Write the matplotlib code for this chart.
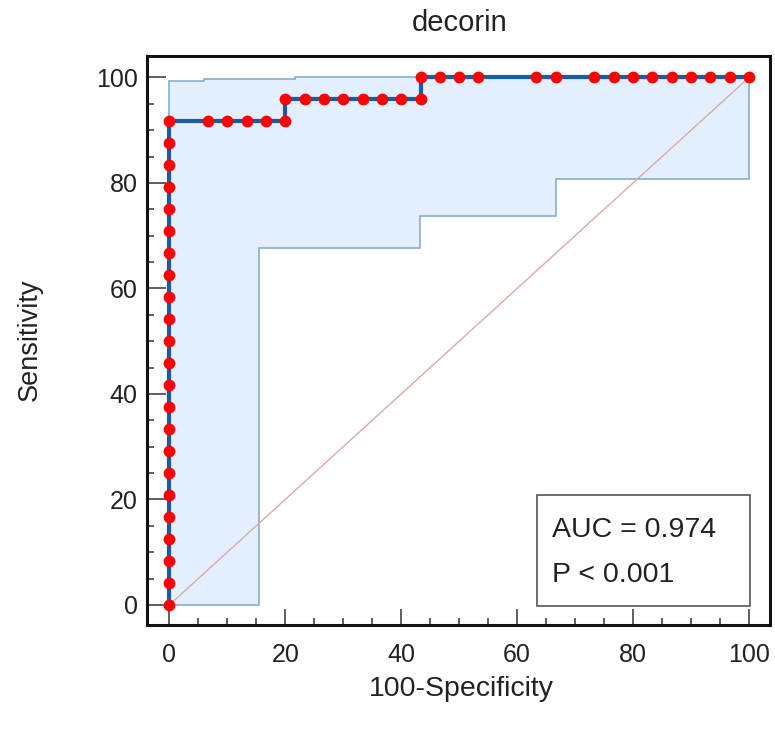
import matplotlib
matplotlib.use("Agg")
import matplotlib.pyplot as plt
from matplotlib.patches import Polygon, Rectangle
from matplotlib.ticker import MultipleLocator

plt.rcParams['font.family'] = ['Liberation Sans', 'DejaVu Sans']

# ROC curve (100-Specificity vs Sensitivity), step shape
roc_x = [0, 0, 20, 20, 43.33, 43.33, 100]
roc_y = [0, 91.67, 91.67, 95.83, 95.83, 100, 100]

# criterion points
pts_x = ([0] * 23
         + [6.67, 10, 13.33, 16.67, 20]
         + [20, 23.33, 26.67, 30, 33.33, 36.67, 40, 43.33]
         + [43.33, 46.67, 50, 53.33, 63.33, 66.67, 73.33, 76.67, 80,
            83.33, 86.67, 90, 93.33, 96.67, 100])
pts_y = ([0, 4.17, 8.33, 12.5, 16.67, 20.83, 25, 29.17, 33.33, 37.5, 41.67,
          45.83, 50, 54.17, 58.33, 62.5, 66.67, 70.83, 75, 79.17, 83.33,
          87.5, 91.67]
         + [91.67] * 5 + [95.83] * 8 + [100] * 15)

# confidence band (step-wise bounds)
upper_x = [0, 6, 21.7, 100]
upper_y = [99.4, 99.7, 100, 100]
lower_x = [0, 15.5, 43.3, 66.7, 100]
lower_y = [0, 67.7, 73.7, 80.8, 80.8]

auc_text = "AUC = 0.974"
p_text = "P < 0.001"


def step_vertices(xs, ys):
    verts = []
    for i in range(len(xs)):
        if i > 0:
            verts.append((xs[i], ys[i - 1]))
        verts.append((xs[i], ys[i]))
    return verts


fig = plt.figure(figsize=(7.75, 7.31), dpi=100)
ax = fig.add_axes([0.190, 0.145, 0.8035, 0.778])

up = step_vertices(upper_x, upper_y)
lo = step_vertices(lower_x, lower_y)
band = Polygon(up + lo[::-1], closed=True, facecolor='#e3effc',
               edgecolor='#7ea6d3', lw=1.1, zorder=1)
ax.add_patch(band)

ax.plot([0, 100], [0, 100], color='#d8aaaa', lw=1.0, zorder=2)
ax.plot(roc_x, roc_y, color='#1b5aa6', lw=3.0, zorder=3)
ax.plot(pts_x, pts_y, 'o', color='#ff0000', ms=8.5, mew=0, zorder=4)

ax.set_xlim(-3.8, 103.6)
ax.set_ylim(-3.8, 104)

ax.xaxis.set_major_locator(MultipleLocator(20))
ax.xaxis.set_minor_locator(MultipleLocator(5))
ax.yaxis.set_major_locator(MultipleLocator(20))
ax.yaxis.set_minor_locator(MultipleLocator(5))
ax.tick_params(axis='both', which='both', direction='in', color='#333333',
               width=1.1, labelsize=18, labelcolor='#222222')
ax.tick_params(axis='x', which='major', length=11.5, pad=13)
ax.tick_params(axis='y', which='major', length=14, pad=7)
ax.tick_params(axis='both', which='minor', length=5)

for s in ax.spines.values():
    s.set_linewidth(2.2)
    s.set_color('#111111')

# AUC box
ax.add_patch(Rectangle((0.626, 0.033), 0.342, 0.195, transform=ax.transAxes,
                       facecolor='white', edgecolor='#555555', lw=1.2, zorder=5))
ax.text(0.65, 0.167, auc_text, transform=ax.transAxes, fontsize=20.5,
        va='center', ha='left', color='#222222', zorder=6)
ax.text(0.65, 0.088, p_text, transform=ax.transAxes, fontsize=20.5,
        va='center', ha='left', color='#222222', zorder=6)

fig.text(0.593, 0.968, "decorin", ha='center', va='center', fontsize=21,
         color='#222222')
fig.text(0.595, 0.058, "100-Specificity", ha='center', va='center',
         fontsize=20.5, color='#222222')
fig.text(0.039, 0.535, "Sensitivity", ha='center', va='center',
         rotation=90, fontsize=19.5, color='#222222')

fig.savefig("out.png", dpi=100)
